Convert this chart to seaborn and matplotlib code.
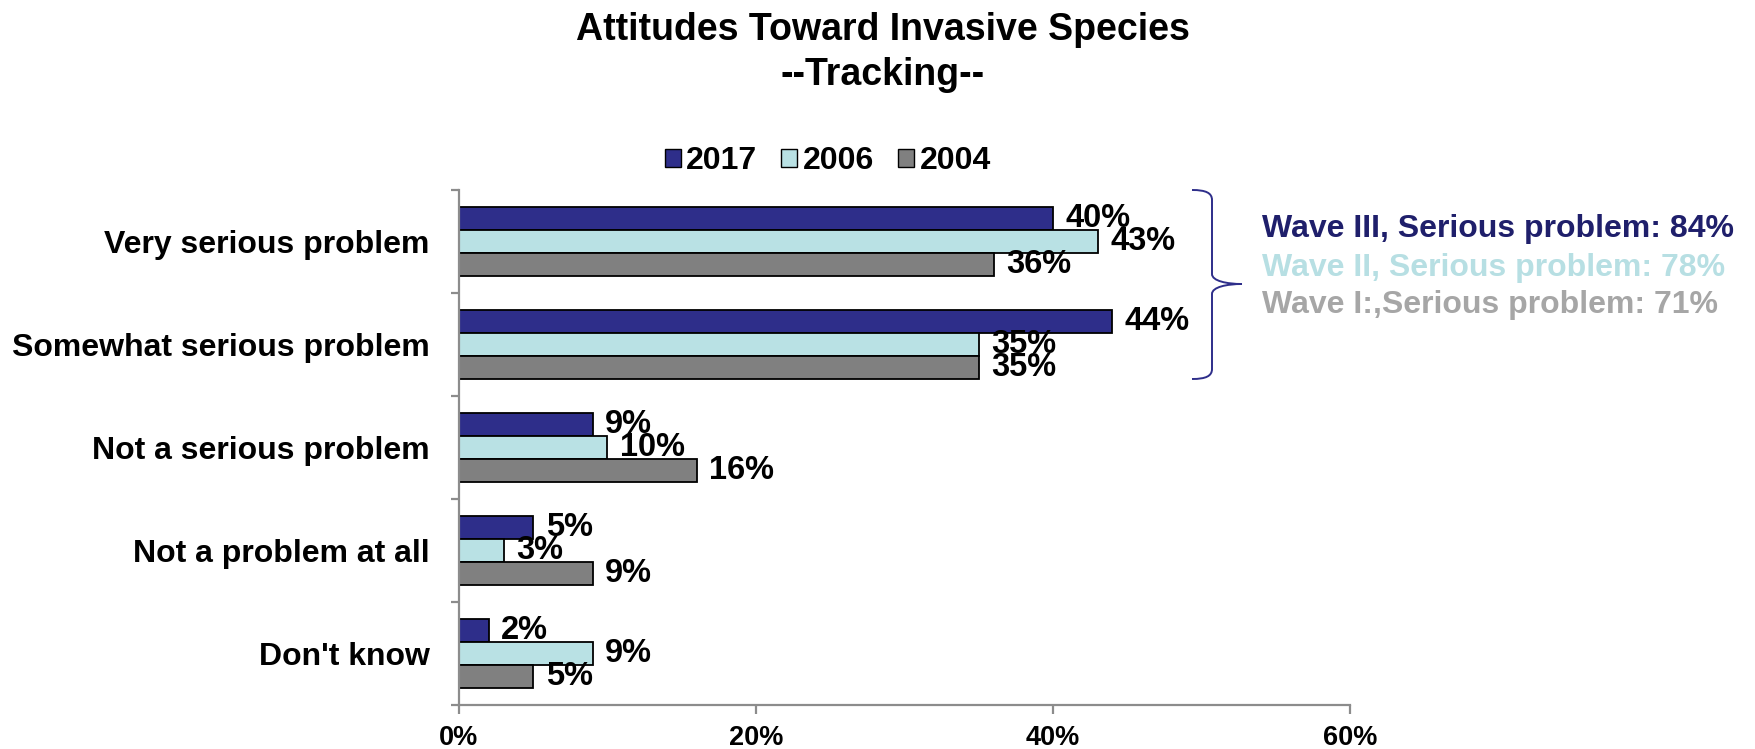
import matplotlib
matplotlib.use("Agg")
import matplotlib.pyplot as plt
import matplotlib.patches as mpatches
from matplotlib.path import Path
from matplotlib.ticker import FuncFormatter, FixedLocator
import seaborn as sns
import pandas as pd

# ---- data ----
categories = ["Very serious problem", "Somewhat serious problem",
              "Not a serious problem", "Not a problem at all", "Don't know"]
years = ["2017", "2006", "2004"]
values_2017 = [40, 44, 9, 5, 2]
values_2006 = [43, 35, 10, 3, 9]
values_2004 = [36, 35, 16, 9, 5]
x_ticks = [0, 20, 40, 60]
wave_texts = ["Wave III, Serious problem: 84%",
              "Wave II, Serious problem: 78%",
              "Wave I:,Serious problem: 71%"]

colors = {"2017": "#2E2E8A", "2006": "#B9E1E4", "2004": "#808080"}
wave_colors = ["#1F1F6B", "#B7DFE3", "#A6A6A6"]

rows = []
for yr, vals in zip(years, [values_2017, values_2006, values_2004]):
    for c, v in zip(categories, vals):
        rows.append({"category": c, "year": yr, "value": v})
df = pd.DataFrame(rows)

sns.set_style("white")
plt.rcParams["font.family"] = ["Liberation Sans", "DejaVu Sans"]
plt.rcParams["font.weight"] = "bold"
plt.rcParams["text.color"] = "black"
plt.rcParams["axes.labelcolor"] = "black"
plt.rcParams["xtick.color"] = "black"
plt.rcParams["ytick.color"] = "black"

W, H = 1756, 749
fig = plt.figure(figsize=(W / 100, H / 100), dpi=100)
ax = fig.add_axes([459 / W, 1 - 705 / H, (1350 - 459) / W, (705 - 190) / H])

sns.barplot(data=df, x="value", y="category", hue="year", order=categories,
            hue_order=years, palette=colors, orient="h", width=0.67,
            edgecolor="black", linewidth=1.3, ax=ax, saturation=1, legend=True)

ax.set_xlim(0, 60)
ax.set_ylim(4.5, -0.5)
ax.set_xlabel("")
ax.set_ylabel("")

# spines
for s in ["top", "right"]:
    ax.spines[s].set_visible(False)
for s in ["left", "bottom"]:
    ax.spines[s].set_color("#8C8C8C")
    ax.spines[s].set_linewidth(1.6)

# x ticks
ax.xaxis.set_major_locator(FixedLocator(x_ticks))
ax.xaxis.set_major_formatter(FuncFormatter(lambda v, p: f"{v:.0f}%"))
ax.tick_params(axis="x", which="major", direction="out", length=6.5, width=1.6,
               color="#8C8C8C", labelcolor="black", labelsize=19.5, pad=8,
               bottom=True)
for lab in ax.get_xticklabels():
    lab.set_fontweight("bold")

# y ticks: labels at centers, tick marks at boundaries
ax.set_yticks(range(len(categories)))
ax.set_yticklabels(categories, fontsize=23, fontweight="bold", color="black")
ax.tick_params(axis="y", which="major", length=0, pad=21, left=True)
ax.yaxis.set_minor_locator(FixedLocator([i - 0.5 for i in range(len(categories) + 1)]))
ax.tick_params(axis="y", which="minor", direction="out", length=6, width=1.6,
               color="#8C8C8C", left=True)

# data labels
for cont in ax.containers:
    ax.bar_label(cont, fmt="%d%%", padding=9, fontsize=23.5, fontweight="bold",
                 color="black")

# legend
handles, labels = ax.get_legend_handles_labels()
ax.get_legend().remove()
for h in handles:
    h.set_edgecolor("black")
    h.set_linewidth(1.0)
fig.legend(handles, labels, loc="center", bbox_to_anchor=(828 / W, 1 - 161 / H),
           ncol=3, frameon=False, handlelength=0.5,
           handleheight=0.5, handletextpad=0.18, columnspacing=0.75,
           prop={"weight": "bold", "size": 23})

# title
fig.text(883 / W, 1 - 40 / H, "Attitudes Toward Invasive Species", ha="center",
         va="baseline", fontsize=27, fontweight="bold", color="black")
fig.text(883 / W, 1 - 85 / H, "--Tracking--", ha="center",
         va="baseline", fontsize=27, fontweight="bold", color="black")

# brace
def P(x, y):
    return (x / W, 1 - y / H)

verts = [P(1192, 190), P(1206, 190), P(1212, 193), P(1212, 200),
         P(1212, 274),
         P(1212, 281), P(1227, 284), P(1242, 284),
         P(1227, 284), P(1212, 287), P(1212, 294),
         P(1212, 369),
         P(1212, 376), P(1206, 379), P(1192, 379)]
codes = [Path.MOVETO, Path.CURVE4, Path.CURVE4, Path.CURVE4,
         Path.LINETO,
         Path.CURVE4, Path.CURVE4, Path.CURVE4,
         Path.CURVE4, Path.CURVE4, Path.CURVE4,
         Path.LINETO,
         Path.CURVE4, Path.CURVE4, Path.CURVE4]
brace = mpatches.PathPatch(Path(verts, codes), transform=fig.transFigure,
                           fill=False, edgecolor="#2E2E8A", linewidth=1.4)
fig.patches.append(brace)

# wave texts
for txt, col, yb in zip(wave_texts, wave_colors, [237, 276, 313]):
    fig.text(1262 / W, 1 - yb / H, txt, ha="left", va="baseline",
             fontsize=23, fontweight="bold", color=col)

fig.savefig("out.png", dpi=100)
